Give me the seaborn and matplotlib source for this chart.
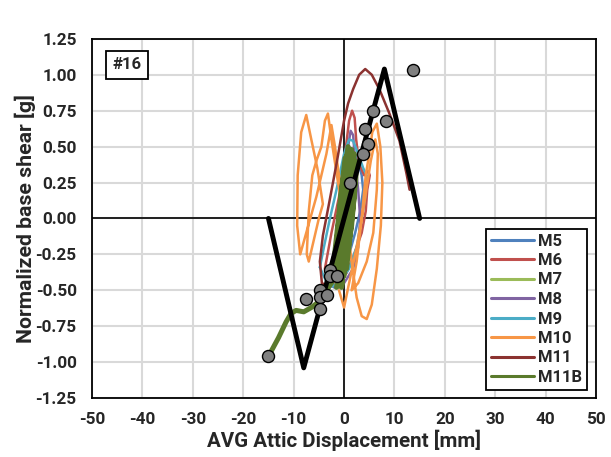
import matplotlib
matplotlib.use("Agg")
import matplotlib.pyplot as plt
import seaborn as sns

# hysteresis traces (displacement mm, base shear g)
m5_x = [-3.2, -2.0, -0.8, 0.5, 1.5, 2.2, 2.8, 3.5, 3.8, 3.2, 2.2, 1.0, -0.5, -2.0, -3.2]
m5_y = [-0.45, -0.30, -0.10, 0.15, 0.35, 0.45, 0.40, 0.30, 0.20, 0.05, -0.10, -0.25, -0.40, -0.48, -0.45]

m6_x = [-3.8, -2.5, -1.0, 0.2, 1.0, 1.6, 2.1, 2.4, 3.0, 4.0, 4.8, 5.1, 4.6, 4.3, 3.5, 2.0, 0.5, -1.5, -3.5]
m6_y = [-0.35, -0.10, 0.15, 0.45, 0.68, 0.75, 0.70, 0.55, 0.38, 0.30, 0.33, 0.30, 0.20, 0.05, -0.10, -0.25, -0.38, -0.45, -0.42]

m7_x = [-2.5, -1.0, 0.5, 1.5, 2.0, 2.5, 1.5, 0.0, -1.5, -2.5]
m7_y = [-0.40, -0.15, 0.15, 0.40, 0.45, 0.30, 0.05, -0.20, -0.40, -0.40]

m8_x = [-3.0, -1.5, 0.0, 0.8, 1.3, 1.8, 2.2, 2.8, 3.2, 2.8, 1.8, 0.0, -1.8, -3.0]
m8_y = [-0.40, -0.15, 0.20, 0.50, 0.61, 0.58, 0.40, 0.20, 0.00, -0.20, -0.35, -0.45, -0.48, -0.40]

m9_x = [-4.8, -4.0, -2.8, -1.5, 0.0, 1.0, 1.8, 2.8, 3.8, 4.5, 4.2, 3.5, 2.5, 1.0, -1.0, -3.0, -4.8]
m9_y = [-0.34, -0.20, 0.00, 0.20, 0.45, 0.55, 0.54, 0.45, 0.35, 0.30, 0.15, 0.00, -0.20, -0.35, -0.45, -0.48, -0.34]

m10_x = [0.0, -1.2, -2.5, -3.2, -3.8, -4.5, -5.5, -6.3, -7.0, -7.4, -7.0, -6.0, -5.0, -4.2,
         -5.3, -6.5, -7.5, -8.5, -9.2, -9.3, -8.7, -7.5, -5.5, -3.5, -2.5, -1.8, -1.0, 0.5,
         1.5, 2.5, 3.5, 4.5, 5.5, 6.5, 7.3, 7.6, 7.2, 6.5, 5.6, 5.0, 4.3, 3.5, 2.5, 1.5,
         2.8, 4.5, 5.8, 6.5, 6.7, 6.2, 5.3, 4.0, 2.5, 1.0, 0.0, -1.0]
m10_y = [0.00, 0.25, 0.55, 0.73, 0.68, 0.50, 0.40, 0.30, 0.05, -0.25, -0.30, -0.15, 0.00, 0.10,
         0.35, 0.55, 0.72, 0.60, 0.30, -0.05, -0.25, -0.10, 0.15, 0.45, 0.65, 0.50, 0.30, 0.00,
         -0.30, -0.55, -0.68, -0.70, -0.60, -0.35, -0.05, 0.25, 0.50, 0.66, 0.60, 0.45, 0.30, 0.00, -0.30, -0.50,
         -0.45, -0.30, -0.10, 0.20, 0.45, 0.55, 0.40, 0.10, -0.20, -0.45, -0.62, -0.50]

m11_x = [-1.0, -2.8, -4.4, -4.8, -4.2, -3.0, -1.5, 0.0, 0.8, 1.8, 3.0, 4.2, 5.5, 7.0, 9.0, 11.0, 12.4, 13.0]
m11_y = [-0.30, -0.48, -0.45, -0.30, -0.12, 0.10, 0.38, 0.68, 0.80, 0.90, 1.00, 1.04, 1.00, 0.90, 0.73, 0.54, 0.31, 0.20]

m11b_x = [-15.0, -13.0, -11.5, -10.5, -9.5, -8.0, -6.5, -5.0, -3.5, -2.5, 0.2, 1.5, 0.5, -1.5,
          -0.5, 1.0, 2.0, 1.2, -1.0, -2.0, 0.5, 1.8, 0.3, -0.5, 1.5, 2.3, 0.8, -1.2,
          -0.2, 1.0, 2.0, 0.5, -1.8, -0.5, 0.8, 2.5, 1.5, 0.0, -1.0, 0.3, 1.8, 1.2,
          -0.8, -2.2, -0.3, 1.3, 2.2, 0.2, -1.5, 0.0, 1.6, 0.6]
m11b_y = [-0.96, -0.83, -0.72, -0.66, -0.64, -0.65, -0.62, -0.58, -0.50, -0.45, 0.42, 0.48, -0.10, -0.48,
          -0.45, 0.30, 0.45, 0.05, -0.40, -0.35, 0.40, 0.30, -0.20, -0.48, 0.20, 0.40, -0.10, -0.42,
          0.10, 0.45, 0.15, -0.35, -0.30, 0.20, 0.50, 0.35, -0.05, -0.40, -0.10, 0.30, 0.45, 0.00,
          -0.45, -0.38, 0.05, 0.42, 0.25, -0.30, -0.40, 0.15, 0.38, -0.05]

# backbone curve and peak points
env_x = [-15, -8, 8, 15]
env_y = [0.0, -1.04, 1.04, 0.0]

peak_x = [13.7, 5.8, 8.3, 4.1, 4.8, 3.8, 1.2, -2.8, -2.8, -1.4, -4.8, -4.8, -3.4, -7.6, -4.8, -15.0]
peak_y = [1.03, 0.75, 0.68, 0.62, 0.52, 0.45, 0.25, -0.36, -0.40, -0.40, -0.50, -0.55, -0.53, -0.56, -0.63, -0.96]

series = [
    ("M5", m5_x, m5_y, "#4f81bd"),
    ("M6", m6_x, m6_y, "#c0504d"),
    ("M7", m7_x, m7_y, "#9bbb59"),
    ("M8", m8_x, m8_y, "#8064a2"),
    ("M9", m9_x, m9_y, "#4bacc6"),
    ("M10", m10_x, m10_y, "#f79646"),
    ("M11", m11_x, m11_y, "#8b3230"),
    ("M11B", m11b_x, m11b_y, "#5a7a2c"),
]

sns.set_style("white")
plt.rcParams['font.family'] = ['Roboto', 'DejaVu Sans']
plt.rcParams['axes.unicode_minus'] = False

fig = plt.figure(figsize=(6.11, 4.57), dpi=100)
ax = fig.add_axes([0.1506, 0.129, 0.825, 0.786])

ax.set_xlim(-50, 50)
ax.set_ylim(-1.25, 1.25)
ax.set_xticks(range(-50, 51, 10))
yt = [i * 0.25 for i in range(-5, 6)]
ax.set_yticks(yt)
ax.set_yticklabels([f"{v:.2f}" for v in yt])
ax.grid(True, color="#d9d9d9", linewidth=1.5)
ax.set_axisbelow(True)
ax.axhline(0, color="black", lw=1.2, zorder=1)
ax.axvline(0, color="black", lw=1.2, zorder=1)

for name, xs, ys, col in series:
    lw = 3.6 if name == "M11B" else 1.8
    sns.lineplot(x=xs, y=ys, sort=False, estimator=None, color=col, lw=lw, ax=ax, label=name)

sns.lineplot(x=env_x, y=env_y, sort=False, estimator=None, color="black", lw=3.5, ax=ax)
sns.scatterplot(x=peak_x, y=peak_y, s=75, color="#808080", edgecolor="black", linewidth=1.0, ax=ax, zorder=5)

for s in ax.spines.values():
    s.set_color("black")
    s.set_linewidth(1.3)
ax.tick_params(axis="x", length=0, labelsize=12.3, pad=10)
ax.tick_params(axis="y", length=0, labelsize=12.3, pad=11)
for lab in ax.get_xticklabels() + ax.get_yticklabels():
    lab.set_fontweight("bold")

ax.set_xlabel("AVG Attic Displacement [mm]", fontsize=14.8, fontweight="bold", labelpad=2)
ax.set_ylabel("Normalized base shear [g]", fontsize=15.3, fontweight="bold", labelpad=0)

ax.text(0.069, 0.928, "#16", transform=ax.transAxes, fontsize=12, fontweight="bold",
        ha="center", va="center",
        bbox=dict(boxstyle="square,pad=0.4", fc="white", ec="black", lw=1.3))

handles, labels = ax.get_legend_handles_labels()
leg = ax.legend(handles, labels, loc="lower right", bbox_to_anchor=(587 / 611, 1 - 390 / 457),
                bbox_transform=fig.transFigure, borderaxespad=0, fancybox=False, framealpha=1,
                edgecolor="black", handlelength=2.6, handletextpad=0.25, labelspacing=0.27,
                borderpad=0.3, prop={"weight": "bold", "size": 12})
leg.get_frame().set_linewidth(1.3)
for line in leg.get_lines():
    line.set_linewidth(2.2)

fig.savefig("out.png", dpi=100)
